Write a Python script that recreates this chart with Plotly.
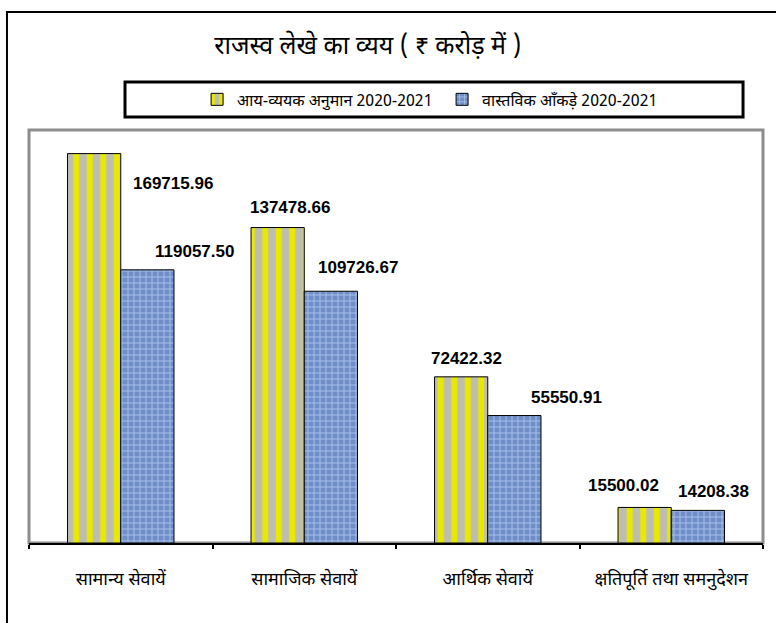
import plotly.graph_objects as go

categories = ["सामान्य सेवायें", "सामाजिक सेवायें", "आर्थिक सेवायें", "क्षतिपूर्ति तथा समनुदेशन"]
budget_2020_21 = [169715.96, 137478.66, 72422.32, 15500.02]
actual_2020_21 = [119057.50, 109726.67, 55550.91, 14208.38]
series_names = ["आय-व्ययक अनुमान 2020-2021", "वास्तविक आँकड़े 2020-2021"]
title_text = "राजस्व लेखे का व्यय ( ₹ करोड़ में )"

# label offsets (pixels) relative to category centre / bar top
budget_label_dx = [52, -14, -21, -48]
budget_label_dy = [-30, 20, 18, 22]
actual_label_dx = [74, 54, 79, 42]
actual_label_dy = [18, 24, 18, 19]

DEV = "Noto Sans Devanagari, Noto Sans, sans-serif"

fig = go.Figure()
fig.add_trace(go.Bar(
    x=categories, y=budget_2020_21, name=series_names[0],
    marker=dict(color="#E6E600", line=dict(color="black", width=1),
                pattern=dict(shape="|", fillmode="replace", bgcolor="#BDBDB4",
                             fgcolor="#E8E800", size=13.5, solidity=0.45)),
))
fig.add_trace(go.Bar(
    x=categories, y=actual_2020_21, name=series_names[1],
    marker=dict(color="#7592CC", line=dict(color="black", width=1),
                pattern=dict(shape="+", fillmode="replace", bgcolor="#6F8EC8",
                             fgcolor="#A8C0E8", size=6, solidity=0.3)),
))

annotations = []
for cat, v, dx, dy in zip(categories, budget_2020_21, budget_label_dx, budget_label_dy):
    annotations.append(dict(x=cat, y=v, xref="x", yref="y", text=f"{v:.2f}",
                            showarrow=False, xshift=dx, yshift=dy,
                            font=dict(family="Liberation Sans, Arial", size=17, color="black", weight="bold")))
for cat, v, dx, dy in zip(categories, actual_2020_21, actual_label_dx, actual_label_dy):
    annotations.append(dict(x=cat, y=v, xref="x", yref="y", text=f"{v:.2f}",
                            showarrow=False, xshift=dx, yshift=dy,
                            font=dict(family="Liberation Sans, Arial", size=17, color="black", weight="bold")))

shapes = [
    # outer frame
    dict(type="rect", xref="paper", yref="paper", x0=-0.030, x1=1.3, y0=-0.6, y1=1.2857,
         line=dict(color="black", width=2), layer="below"),
    # legend box
    dict(type="rect", xref="paper", yref="paper", x0=0.1308, x1=0.9728, y0=1.0315, y1=1.1162,
         line=dict(color="black", width=3), layer="below"),
    # plot area border
    dict(type="rect", xref="paper", yref="paper", x0=0, x1=1, y0=0, y1=1,
         line=dict(color="#8C8C8C", width=3), layer="below"),
]

fig.update_layout(
    width=776, height=623,
    margin=dict(l=29, r=13, t=130, b=80, autoexpand=False),
    paper_bgcolor="white", plot_bgcolor="white",
    barmode="group", bargap=0.42, bargroupgap=0,
    title=dict(text=title_text, x=0.474, xanchor="center", y=0.928, yanchor="middle",
               font=dict(family=DEV, size=25, color="black")),
    legend=dict(orientation="h", x=0.229, xanchor="left", y=1.074, yanchor="middle",
                font=dict(family=DEV, size=16, color="black"),
                itemwidth=30, entrywidth=200, bgcolor="rgba(0,0,0,0)", borderwidth=0),
    showlegend=True,
    xaxis=dict(showline=True, linecolor="black", linewidth=2, ticks="outside",
               tickson="boundaries", ticklen=4, tickcolor="black", tickwidth=2,
               tickfont=dict(family=DEV, size=18, color="black"),
               ticklabelstandoff=18, showgrid=False, mirror=False),
    yaxis=dict(range=[0, 180000], visible=False, showgrid=False),
    annotations=annotations,
    shapes=shapes,
)

fig.write_html("out.html", config={"displayModeBar": False},
               post_script="document.body.style.margin='0px';")
